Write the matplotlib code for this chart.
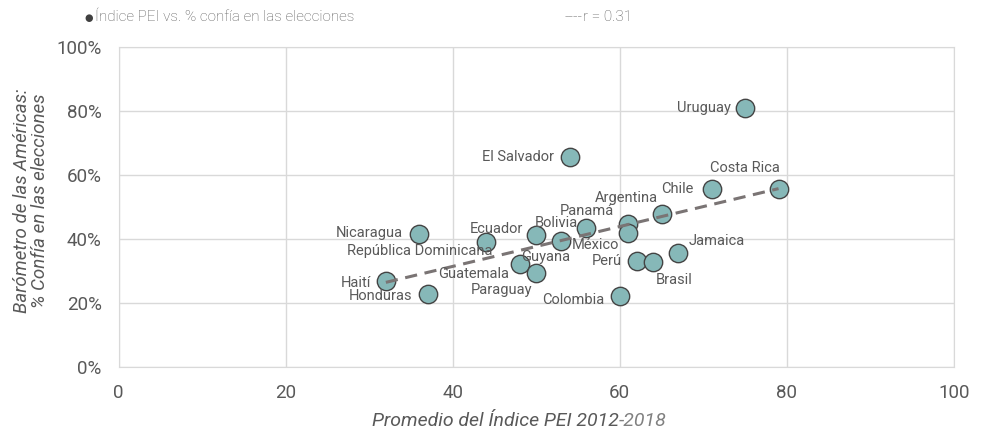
import numpy as np
import matplotlib
matplotlib.use("Agg")
import matplotlib.pyplot as plt

plt.rcParams['font.family'] = ['Roboto', 'DejaVu Sans']

# data
countries = ["Uruguay", "El Salvador", "Costa Rica", "Chile", "Argentina",
             "Panamá", "México", "Bolivia", "Guyana", "Ecuador",
             "República Dominicana", "Guatemala", "Paraguay", "Haití",
             "Honduras", "Nicaragua", "Perú", "Brasil", "Jamaica", "Colombia"]
pei = [75, 54, 79, 71, 65, 61, 61, 56, 53, 50, 44, 48, 50, 32, 37, 36, 62, 64, 67, 60]
confia = [80.8, 65.5, 55.6, 55.7, 47.8, 44.7, 41.8, 43.3, 39.4, 41.3,
          39.0, 32.1, 29.5, 26.8, 22.8, 41.5, 33.2, 32.7, 35.5, 22.3]

# label placement: (dx px, dy px, horizontal alignment)
label_pos = {
    "Uruguay": (-14, 0, 'right'), "El Salvador": (-16, 0, 'right'),
    "Costa Rica": (-34, 21, 'center'), "Chile": (-18, 0, 'right'),
    "Argentina": (-4, 16, 'right'), "Panamá": (-14, 13, 'right'),
    "México": (-9, -12, 'right'), "Bolivia": (-8, 5, 'right'),
    "Guyana": (9, -16, 'right'), "Ecuador": (-13, 6, 'right'),
    "República Dominicana": (6, -9, 'right'), "Guatemala": (-10, -10, 'right'),
    "Paraguay": (-4, -17, 'right'), "Haití": (-15, -2, 'right'),
    "Honduras": (-15, -2, 'right'), "Nicaragua": (-16, 1, 'right'),
    "Perú": (-15, 0, 'right'), "Brasil": (3, -18, 'left'),
    "Jamaica": (10, 12, 'left'), "Colombia": (-15, -4, 'right'),
}

txt = '#595959'
W, H = 982, 434
fig = plt.figure(figsize=(W / 100, H / 100), dpi=100)
ax = fig.add_axes([118.5 / W, 1 - 367 / H, (954 - 118.5) / W, (367 - 47) / H])

x = np.array(pei, dtype=float)
y = np.array(confia, dtype=float)
ax.scatter(x, y, s=175, facecolor='#86b8b8', edgecolor='#444444', linewidth=1.0, zorder=3)

# linear trend
m, b = np.polyfit(x, y, 1)
xs = np.array([x.min(), x.max()])
ax.plot(xs, m * xs + b, color='#7a7474', lw=2.2, ls=(0, (4, 2.5)), zorder=4)

for c, xi, yi in zip(countries, x, y):
    dx, dy, ha = label_pos[c]
    ax.annotate(c, (xi, yi), xytext=(dx, dy), textcoords='offset pixels',
                ha=ha, va='center', fontsize=10.5, color=txt, zorder=5)

ax.set_xlim(0, 100)
ax.set_ylim(0, 100)
ax.set_xticks(np.arange(0, 101, 20))
ax.set_yticks(np.arange(0, 101, 20))
ax.set_yticklabels([f"{v}%" for v in range(0, 101, 20)])
ax.grid(True, color='#d9d9d9', lw=1)
ax.set_axisbelow(True)
for s in ax.spines.values():
    s.set_color('#d9d9d9')
ax.tick_params(length=0, labelsize=13.5, colors=txt, pad=12)

# axis titles
t1 = fig.text(372 / W, 1 - 421 / H, "Promedio del Índice PEI 2012", fontsize=14,
              style='italic', color=txt, ha='left', va='center')
ax.annotate("-2018", xy=(1, 0.5), xycoords=t1, fontsize=14, style='italic',
            color='#808080', ha='left', va='center', annotation_clip=False)
fig.text(31 / W, 1 - 201 / H, "Barómetro de las Américas:\n% Confía en las elecciones",
         fontsize=13.5, style='italic', color=txt, rotation=90,
         ha='center', va='center', linespacing=1.05, multialignment='center')

# legend line at the top
fig.text(84 / W, 1 - 17.5 / H, "●", family='DejaVu Sans', fontsize=7, color='#404040',
         va='center')
fig.text(95 / W, 1 - 17 / H, "Índice PEI vs. % confía en las elecciones",
         fontsize=11, color=txt, va='center', fontweight='light')
fig.text(565 / W, 1 - 17 / H, "----", fontsize=11, color='#404040',
         va='center', fontweight='light')
fig.text(583 / W, 1 - 17 / H, "r = 0.31", fontsize=11, color=txt,
         va='center', fontweight='light')

fig.savefig("out.png", dpi=100)
